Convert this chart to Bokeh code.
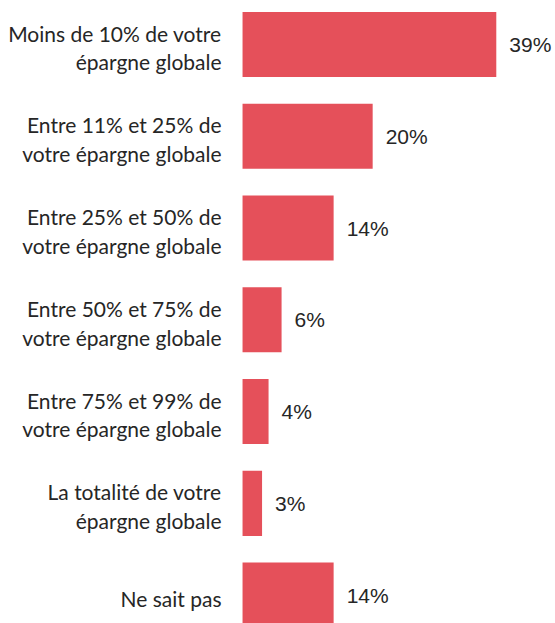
from bokeh.plotting import figure
from bokeh.models import ColumnDataSource, Range1d
from bokeh.core.properties import value
from bokeh.embed import file_html
from bokeh.resources import INLINE

categories = [
    "Moins de 10% de votre\népargne globale",
    "Entre 11% et 25% de\nvotre épargne globale",
    "Entre 25% et 50% de\nvotre épargne globale",
    "Entre 50% et 75% de\nvotre épargne globale",
    "Entre 75% et 99% de\nvotre épargne globale",
    "La totalité de votre\népargne globale",
    "Ne sait pas",
]
values = [39, 20, 14, 6, 4, 3, 14]
value_labels = [f"{v}%" for v in values]

pos = list(range(len(categories)))
src = ColumnDataSource(dict(y=pos, v=values, cat=categories, lab=value_labels,
                            zero=[0] * len(values)))

p = figure(width=555, height=623, output_backend="svg", toolbar_location=None,
           x_range=Range1d(-37.2, 48.1), y_range=Range1d(6.31, -0.48),
           min_border=0)
p.outline_line_color = None
p.xaxis.visible = False
p.yaxis.visible = False
p.xgrid.visible = False
p.ygrid.visible = False
p.background_fill_color = "white"
p.border_fill_color = "white"

p.hbar(y="y", left=0, right="v", height=0.71, source=src,
       fill_color="#E5505A", line_color=None)

p.text(x="zero", y="y", text="cat", source=src, x_offset=-21, y_offset=3,
       text_align="right", text_baseline="middle",
       text_font=value("Lato"), text_font_size="21px",
       text_color="#262626", text_line_height=1.15)

p.text(x="v", y="y", text="lab", source=src, x_offset=13,
       text_align="left", text_baseline="middle",
       text_font=value("Liberation Sans"), text_font_size="21px",
       text_color="#262626")

open("out.html", "w").write(file_html(p, INLINE))
